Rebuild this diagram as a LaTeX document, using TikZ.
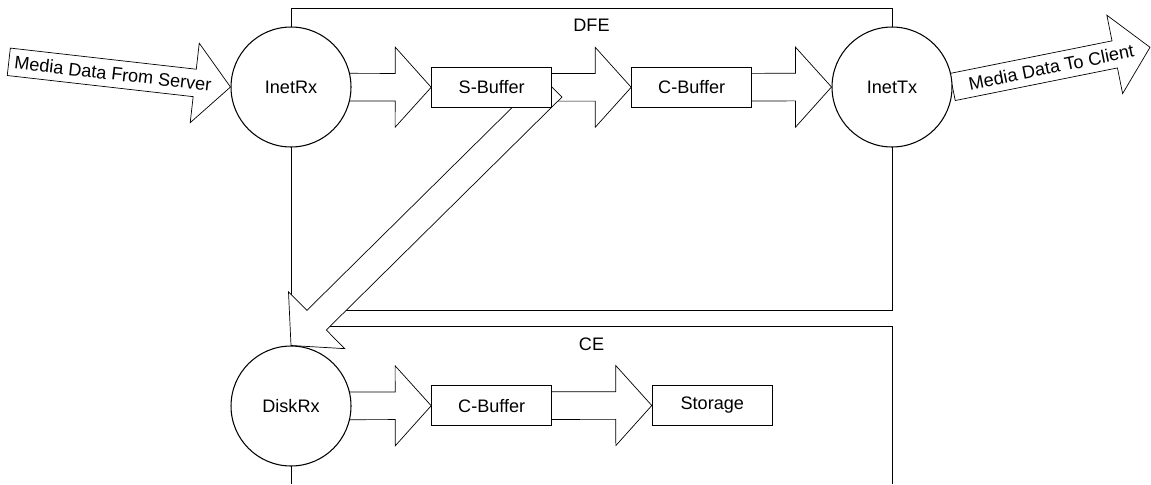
\documentclass[tikz,border=0pt]{standalone}
\usepackage{fontspec}
\setmainfont{Liberation Sans}
\usetikzlibrary{calc, positioning}

\pgfdeclarelayer{frame}
\pgfdeclarelayer{flow}
\pgfsetlayers{frame,flow,main}

% block arrow sizes
\newcommand{\shaftw}{0.276cm}
\newcommand{\headw}{0.8cm}
\newcommand{\headl}{0.72cm}

% wide hollow arrow from #1 to the tip #2
\newcommand{\pipe}[2]{%
  \coordinate (ph) at ($(#2)!\headl!(#1)$);
  \draw[pipe] ($(#1)!\shaftw!90:(#2)$) -- ($(ph)!\shaftw!90:(#2)$)
    -- ($(ph)!\headw!90:(#2)$) -- (#2) -- ($(ph)!\headw!-90:(#2)$)
    -- ($(ph)!\shaftw!-90:(#2)$) -- ($(#1)!\shaftw!-90:(#2)$) -- cycle;%
}

\begin{document}
\begin{tikzpicture}[
  x=0.02cm, y=-0.02cm,
  line width=0.6pt,
  every node/.style={
    font=\fontsize{10.3}{12}\selectfont,
    inner sep=0pt
  },
  station/.style={
    circle,
    draw,
    fill=white,
    minimum size=2.4cm
  },
  buffer/.style={
    rectangle,
    draw,
    fill=white,
    minimum width=2.4cm,
    minimum height=0.8cm
  },
  pipe/.style={draw, fill=white, line join=miter},
]
\useasboundingbox (0,0) rectangle (1151,484);

% stations and buffers
\node[station] (inetrx) at (291,87) {InetRx};
\node[buffer] (sbuf) at (491.7,87.3) {S-Buffer};
\node[buffer] (cbuf) at (691.7,87.3) {C-Buffer};
\node[station] (inettx) at (892,87) {InetTx};

\node[station] (diskrx) at (291,406) {DiskRx};
\node[buffer] (cebuf) at (491.7,405.7) {C-Buffer};
\node[buffer] (storage) at (712.3,405.5) {Storage};

\coordinate (server) at (8.8,61.8);
\coordinate (client) at (1150,47.3);

% DFE and CE frames
\begin{pgfonlayer}{frame}
  \draw (291,8) rectangle (892,310);
  \draw (291,484) |- (892,326) -- (892,484);
\end{pgfonlayer}
\node (dfe) at (591.5,25) {DFE};
\node (ce) at (591.5,344.3) {CE};

% data flow
\begin{pgfonlayer}{flow}
  \pipe{server}{inetrx.west}
  \path (server) -- (inetrx.west)
    node[pos=0.47, sloped] (fromsrv) {Media Data From Server};
  \pipe{inetrx}{sbuf.west}
  \pipe{sbuf}{cbuf.west}
  \pipe{cbuf}{inettx.west}
  \pipe{inettx.east}{client}
  \path (inettx.east) -- (client)
    node[midway, sloped] (toclient) {Media Data To Client};
  \pipe{sbuf.east}{diskrx.north}
  \pipe{diskrx}{cebuf.west}
  \pipe{cebuf}{storage.west}
\end{pgfonlayer}

\end{tikzpicture}
\end{document}
